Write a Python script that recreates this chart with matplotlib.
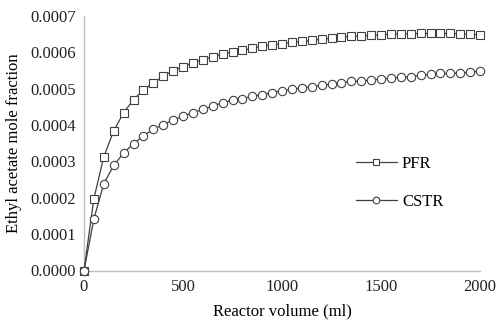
import matplotlib
matplotlib.use("Agg")
import matplotlib.pyplot as plt

volume = list(range(0, 2001, 50))
pfr = [0.0, 0.000198, 0.000313, 0.000384, 0.000434, 0.000470, 0.000497, 0.000516,
       0.000534, 0.000550, 0.000561, 0.000571, 0.000580, 0.000588, 0.000595, 0.000601,
       0.000606, 0.000611, 0.000617, 0.000621, 0.000624, 0.000628, 0.000630, 0.000633,
       0.000636, 0.000639, 0.000642, 0.000644, 0.000645, 0.000647, 0.000648, 0.000650,
       0.000651, 0.000651, 0.000652, 0.000652, 0.000652, 0.000652, 0.000651, 0.000650,
       0.000648]
cstr = [0.0, 0.000142, 0.000239, 0.000289, 0.000323, 0.000349, 0.000370, 0.000389,
        0.000401, 0.000414, 0.000424, 0.000434, 0.000443, 0.000452, 0.000462, 0.000468,
        0.000473, 0.000479, 0.000484, 0.000489, 0.000495, 0.000498, 0.000503, 0.000506,
        0.000509, 0.000513, 0.000517, 0.000520, 0.000521, 0.000524, 0.000527, 0.000529,
        0.000531, 0.000533, 0.000537, 0.000540, 0.000542, 0.000542, 0.000543, 0.000546,
        0.000548]
x_ticks = [0, 500, 1000, 1500, 2000]
y_ticks = [0.0, 0.0001, 0.0002, 0.0003, 0.0004, 0.0005, 0.0006, 0.0007]

plt.rcParams['font.family'] = ['Liberation Serif', 'DejaVu Serif']
plt.rcParams['font.size'] = 12

fig = plt.figure(figsize=(5.0, 3.29), dpi=100)
ax = fig.add_axes([84/500, 1 - 270.5/329, (480-84)/500, (270.5-16)/329])

line_col = '#404040'
ax.plot(volume, pfr, color=line_col, lw=0.9, marker='s', markersize=5.5,
        markerfacecolor='white', markeredgecolor=line_col, markeredgewidth=0.8,
        label='PFR', clip_on=False, zorder=3)
ax.plot(volume, cstr, color=line_col, lw=0.9, marker='o', markersize=6,
        markerfacecolor='white', markeredgecolor=line_col, markeredgewidth=0.8,
        label='CSTR', clip_on=False, zorder=3)

ax.set_xlim(0, 2000)
ax.set_ylim(0, 0.0007)
ax.set_xticks(x_ticks)
ax.set_yticks(y_ticks)
ax.set_yticklabels([f"{v:.4f}" for v in y_ticks])
ax.tick_params(length=0, pad=6, labelsize=12, colors='#222222')
for s in ['top', 'right']:
    ax.spines[s].set_visible(False)
for s in ['left', 'bottom']:
    ax.spines[s].set_color('#bfbfbf')
    ax.spines[s].set_linewidth(1.0)

ax.set_xlabel('Reactor volume (ml)', fontsize=12, labelpad=6)
ax.set_ylabel('Ethyl acetate mole fraction', fontsize=12, labelpad=6)

leg = ax.legend(loc='center left', bbox_to_anchor=(0.687, 0.344), frameon=False,
                fontsize=12, handlelength=2.45, labelspacing=1.35, handletextpad=0.3,
                borderaxespad=0, borderpad=0, markerscale=0.8)

fig.savefig('out.png', dpi=100)
